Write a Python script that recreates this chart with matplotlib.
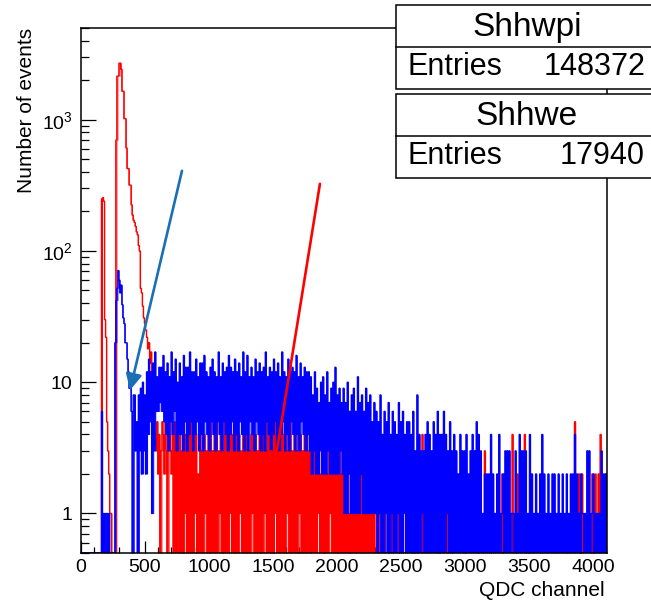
import numpy as np
import matplotlib
matplotlib.use('Agg')
import matplotlib.pyplot as plt
from matplotlib.patches import Rectangle
from matplotlib.lines import Line2D
from matplotlib.ticker import FixedLocator, LogLocator, MultipleLocator, NullFormatter

plt.rcParams['font.family'] = ['Liberation Sans', 'DejaVu Sans']
plt.rcParams['path.simplify'] = False

# ---------------- data (8-channel bins, QDC channel 0 .. 4112) ----------------
bin_width = 8

shhwpi_counts = [
    0, 0, 0, 0, 0, 0, 0, 0, 0, 0, 0, 0, 0, 0, 0, 0, 0, 0, 0, 0, 6, 0, 1, 0, 1, 1, 0, 1, 0, 0, 0, 0,
    0, 20, 42, 52, 71, 60, 48, 55, 39, 31, 28, 20, 20, 15, 12, 9, 9, 6, 0, 8, 8, 3, 5, 0, 8, 3, 9, 2, 10, 3, 8, 2,
    12, 4, 15, 5, 12, 1, 14, 3, 17, 6, 11, 6, 13, 7, 13, 6, 16, 5, 12, 4, 14, 3, 11, 5, 17, 4, 12, 6, 15, 3, 10, 4,
    14, 4, 11, 3, 16, 5, 13, 3, 13, 4, 17, 5, 12, 3, 12, 4, 15, 5, 11, 3, 14, 4, 14, 3, 16, 5, 12, 4, 11, 3, 13, 5,
    15, 4, 12, 3, 11, 5, 17, 4, 11, 3, 14, 5, 12, 4, 13, 3, 16, 4, 13, 5, 12, 3, 15, 4, 12, 3, 14, 5, 11, 4, 17, 3,
    12, 4, 16, 3, 11, 5, 13, 4, 11, 3, 15, 5, 12, 4, 14, 3, 12, 4, 13, 3, 17, 5, 11, 4, 13, 3, 12, 4, 15, 5, 12, 3,
    14, 3, 11, 4, 17, 5, 12, 3, 11, 4, 15, 3, 12, 5, 13, 4, 12, 3, 16, 4, 11, 3, 14, 5, 11, 4, 13, 3, 12, 4, 12, 3,
    11, 2, 8, 3, 12, 2, 9, 2, 7, 3, 10, 2, 11, 2, 8, 2, 12, 3, 7, 2, 9, 2, 10, 2, 13, 2, 8, 2, 9, 3, 7, 2,
    9, 1, 7, 1, 10, 2, 6, 1, 8, 1, 9, 1, 6, 1, 11, 1, 7, 2, 8, 1, 6, 1, 9, 1, 7, 1, 8, 1, 5, 1, 7, 1,
    6, 0, 5, 1, 8, 0, 4, 0, 6, 1, 5, 0, 7, 0, 4, 1, 6, 0, 5, 0, 4, 1, 7, 0, 5, 0, 6, 1, 4, 0, 5, 0,
    5, 0, 4, 0, 6, 0, 3, 0, 8, 0, 4, 0, 3, 1, 3, 0, 4, 0, 5, 0, 4, 0, 3, 0, 5, 0, 4, 0, 6, 0, 4, 0,
    4, 0, 6, 0, 4, 1, 3, 0, 5, 0, 3, 0, 4, 0, 3, 0, 2, 0, 4, 0, 3, 0, 3, 0, 4, 0, 2, 0, 3, 0, 4, 0,
    3, 0, 5, 0, 4, 0, 3, 0, 1, 0, 2, 0, 2, 0, 2, 0, 4, 0, 2, 0, 1, 0, 2, 0, 4, 0, 1, 1, 2, 0, 3, 0,
    3, 0, 3, 0, 1, 1, 1, 0, 3, 0, 1, 0, 4, 0, 3, 0, 3, 0, 3, 0, 1, 0, 4, 0, 2, 0, 1, 0, 2, 0, 1, 0,
    2, 0, 4, 0, 2, 0, 1, 0, 2, 0, 1, 0, 2, 0, 2, 0, 1, 0, 2, 0, 1, 0, 2, 0, 1, 0, 2, 0, 1, 0, 2, 0,
    2, 0, 4, 0, 2, 0, 1, 0, 2, 1, 1, 0, 1, 0, 3, 0, 3, 0, 1, 1, 2, 0, 1, 0, 1, 0, 1, 0, 3, 0, 2, 0,
    2, 0,
]

shhwe_counts = [
    0, 0, 0, 0, 0, 0, 0, 0, 0, 0, 0, 0, 0, 0, 0, 0, 0, 0, 0, 0, 250, 255, 240, 30, 22, 5, 3, 2, 1, 1, 0, 0,
    0, 0, 700, 2150, 2150, 2700, 2700, 2430, 1650, 1650, 1020, 1020, 610, 425, 425, 318, 318, 225, 188, 172,
    165, 154, 140, 133, 110, 100, 52, 48, 38, 31, 28, 25,
    22, 18, 20, 14, 17, 12, 10, 6, 4, 3, 5, 2, 4, 0, 3, 5, 4, 2, 6, 3, 0, 4, 5, 3, 2, 4, 0, 5, 0, 3, 0, 4,
    4, 0, 3, 0, 5, 1, 4, 0, 3, 0, 4, 0, 5, 0, 3, 1, 4, 0, 2, 0, 5, 0, 3, 0, 4, 1, 3, 0, 4, 0, 5, 0,
    3, 0, 4, 0, 5, 0, 3, 1, 4, 0, 3, 0, 5, 0, 4, 0, 3, 1, 5, 0, 4, 0, 3, 0, 6, 0, 4, 1, 3, 0, 5, 0,
    4, 0, 5, 0, 3, 0, 4, 1, 5, 0, 4, 0, 3, 0, 5, 0, 6, 0, 4, 1, 3, 0, 5, 0, 4, 0, 3, 0, 4, 1, 5, 0,
    4, 0, 3, 0, 5, 0, 4, 0, 3, 1, 4, 0, 5, 0, 3, 0, 4, 0, 3, 0, 5, 1, 4, 0, 3, 0, 4, 0, 5, 0, 3, 0,
    3, 0, 2, 0, 3, 0, 2, 1, 3, 0, 2, 0, 3, 0, 2, 0, 2, 0, 3, 1, 2, 0, 3, 0, 2, 0, 2, 0, 3, 0, 2, 0,
    2, 0, 1, 0, 2, 0, 1, 0, 2, 0, 1, 0, 2, 0, 1, 0, 1, 0, 2, 0, 1, 0, 2, 0, 1, 0, 1, 0, 2, 0, 1, 0,
    0, 0, 1, 0, 0, 2, 0, 0, 1, 0, 0, 0, 1, 0, 0, 1, 0, 0, 0, 2, 0, 0, 1, 0, 0, 0, 1, 0, 0, 0, 1, 0,
    0, 0, 0, 1, 0, 0, 0, 0, 1, 0, 0, 0, 0, 4, 0, 0, 0, 0, 0, 0, 1, 0, 0, 0, 0, 0, 0, 1, 0, 0, 0, 0,
    0, 0, 0, 0, 0, 1, 0, 0, 0, 0, 0, 0, 0, 0, 0, 0, 0, 0, 0, 0, 0, 0, 0, 0, 0, 0, 0, 0, 0, 0, 0, 0,
    0, 0, 0, 0, 0, 0, 0, 0, 0, 0, 3, 0, 0, 0, 0, 0, 0, 0, 0, 0, 0, 0, 0, 0, 0, 0, 0, 2, 0, 0, 0, 0,
    0, 0, 0, 0, 0, 4, 0, 0, 0, 0, 2, 0, 0, 0, 0, 0, 0, 4, 0, 0, 0, 0, 0, 0, 0, 0, 0, 0, 0, 0, 0, 0,
    0, 0, 0, 0, 0, 0, 0, 0, 0, 0, 0, 0, 0, 0, 0, 0, 0, 0, 0, 0, 0, 0, 0, 0, 0, 0, 0, 0, 0, 0, 0, 0,
    0, 0, 5, 0, 0, 0, 2, 0, 0, 2, 0, 0, 0, 0, 0, 0, 0, 0, 0, 2, 0, 0, 2, 0, 0, 2, 0, 4, 0, 0, 0, 0,
    2, 2,
]

x_major_ticks = [0, 500, 1000, 1500, 2000, 2500, 3000, 3500, 4000]
y_major_ticks = [1, 10, 100, 1000]
y_tick_labels = ['1', '10', r'$\mathregular{10^{2}}$', r'$\mathregular{10^{3}}$']
stat_names = ['Shhwpi', 'Shhwe']
stat_entries = [148372, 17940]
arrow_blue = [(789, 408), (383, 8.7)]
arrow_red = [(1867, 325), (1508, 2.2)]

# ---------------- figure ----------------
W, H = 651, 600
fig = plt.figure(figsize=(W / 100, H / 100), dpi=100)
ax = fig.add_axes([81 / W, 47 / H, 526 / W, 525 / H])

y_min, y_max = 0.5, 5000


def draw_hist(counts, color, z):
    """ROOT-like histogram outline; zero bins fall to the frame bottom.
    The vertical strokes between neighbouring bins are also filled so that
    dense noisy regions render solid as in ROOT."""
    v = np.array(counts, dtype=float)
    v = np.where(v > 0, v, y_min)
    edges = np.arange(len(v) + 1) * bin_width
    prev = np.concatenate([[v[0]], v[:-1]])
    nxt = np.concatenate([v[1:], [v[-1]]])
    lower = np.minimum(np.minimum(prev, nxt), v)
    ax.fill_between(edges, np.append(lower, lower[-1]), np.append(v, v[-1]),
                    step='post', color=color, lw=0, antialiased=True, zorder=z)
    ax.stairs(v, edges, color=color, lw=1.0, baseline=None, zorder=z)


draw_hist(shhwe_counts, '#ff0000', 2)
draw_hist(shhwpi_counts, '#0000ff', 3)

ax.set_yscale('log')
ax.set_xlim(0, 4110)
ax.set_ylim(y_min, y_max)

ax.xaxis.set_major_locator(FixedLocator(x_major_ticks))
ax.xaxis.set_minor_locator(MultipleLocator(100))
ax.set_xticklabels([str(t) for t in x_major_ticks])
ax.yaxis.set_major_locator(FixedLocator(y_major_ticks))
ax.set_yticklabels(y_tick_labels)
ax.yaxis.set_minor_locator(LogLocator(base=10, subs=np.arange(2, 10)))
ax.yaxis.set_minor_formatter(NullFormatter())

ax.tick_params(axis='both', which='both', direction='in', top=False, right=False,
               colors='black', labelsize=14, width=0.9)
ax.tick_params(axis='x', which='major', length=8.5, pad=4)
ax.tick_params(axis='x', which='minor', length=4.3)
ax.tick_params(axis='y', which='major', length=10.8, pad=6)
ax.tick_params(axis='y', which='minor', length=5.8)
for s in ax.spines.values():
    s.set_linewidth(1.1)
    s.set_zorder(4)

# arrows
ax.annotate('', xy=arrow_blue[1], xytext=arrow_blue[0],
            arrowprops=dict(arrowstyle='-|>', color='#1a6fb5', lw=1.9,
                            mutation_scale=24, shrinkA=0, shrinkB=0), zorder=6)
ax.annotate('', xy=arrow_red[1], xytext=arrow_red[0],
            arrowprops=dict(arrowstyle='-|>', color='#ff0000', lw=1.9,
                            mutation_scale=24, shrinkA=0, shrinkB=0), zorder=6)

# axis titles
fig.text(27 / W, 1 - 28 / H, 'Number of events', rotation=90, ha='center', va='top', fontsize=15)
fig.text(605 / W, 1 - 596 / H, 'QDC channel', ha='right', va='baseline', fontsize=15)

# stat boxes
box_tops = [5, 94]
for name, entries, top in zip(stat_names, stat_entries, box_tops):
    bottom = top + 84
    mid = top + 42
    rect = Rectangle((396 / W, 1 - bottom / H), 300 / W, (bottom - top) / H,
                     transform=fig.transFigure, facecolor='white', edgecolor='black',
                     lw=1.1, zorder=20)
    fig.add_artist(rect)
    fig.add_artist(Line2D([396 / W, 1.0], [1 - mid / H, 1 - mid / H],
                          transform=fig.transFigure, color='black', lw=1.1, zorder=21))
    fig.text(527 / W, 1 - (top + 31) / H, name, ha='center', va='baseline',
             fontsize=24, zorder=22)
    fig.text(408 / W, 1 - (top + 70) / H, 'Entries', ha='left', va='baseline',
             fontsize=22, zorder=22)
    fig.text(645 / W, 1 - (top + 70) / H, str(entries), ha='right', va='baseline',
             fontsize=22, zorder=22)

fig.savefig('out.png', dpi=100)
